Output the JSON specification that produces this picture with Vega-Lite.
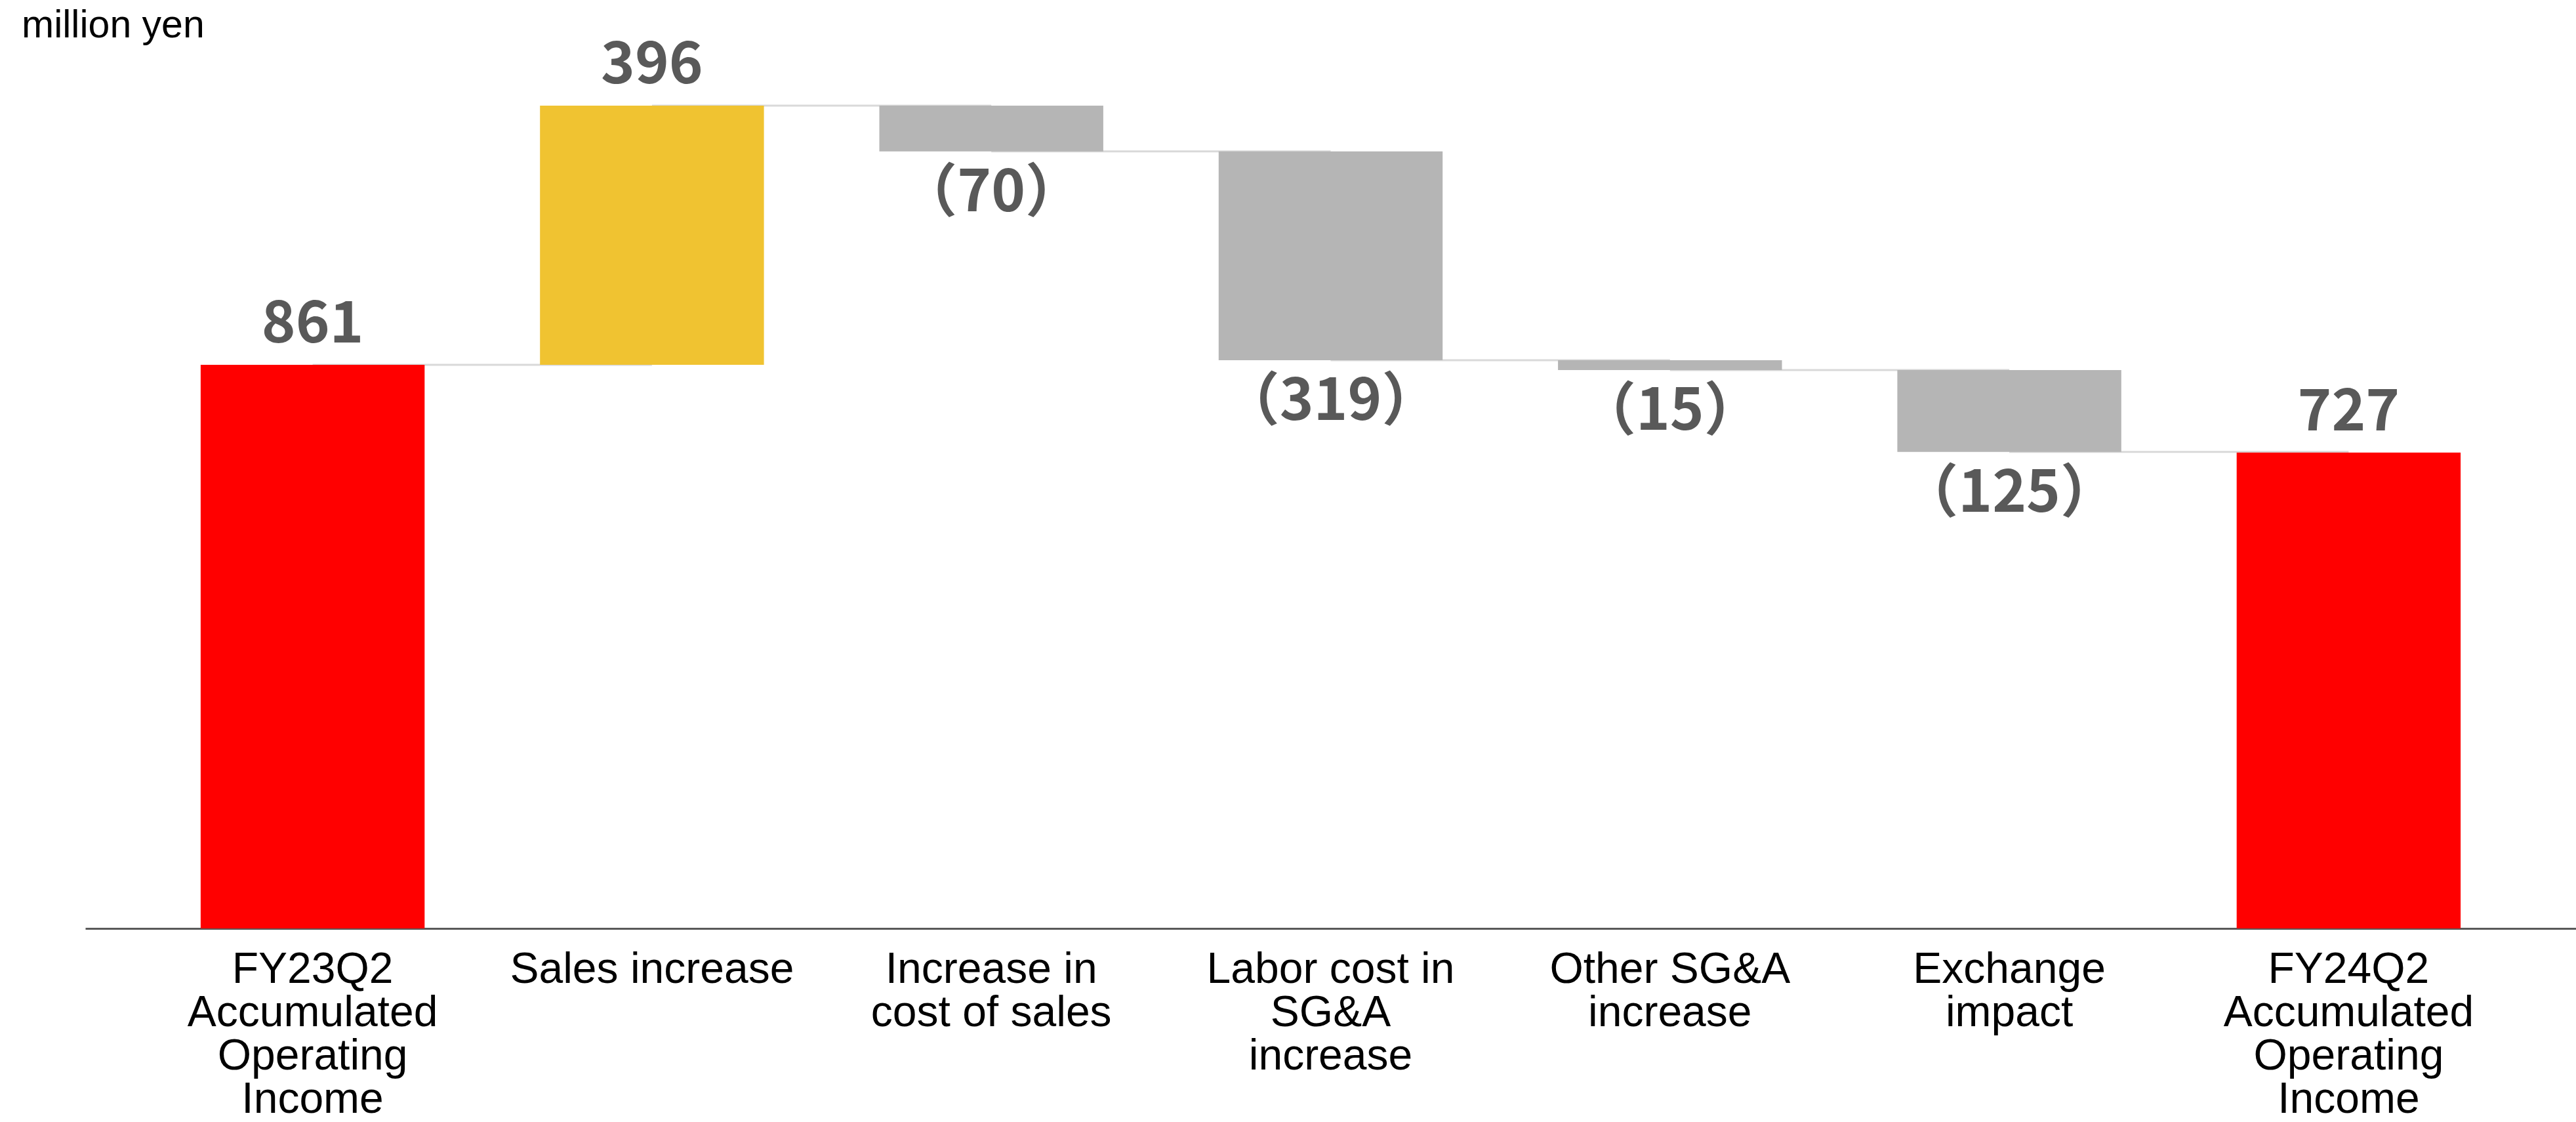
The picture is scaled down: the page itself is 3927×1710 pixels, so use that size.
{
  "$schema": "https://vega.github.io/schema/vega-lite/v6.json",
  "autosize": {"type": "none"},
  "width": 3797,
  "height": 1297,
  "padding": {"left": 130, "top": 118, "right": 0, "bottom": 295},
  "background": "white",
  "title": {"text": "million yen", "anchor": "start", "frame": "group", "orient": "top", "font": "Liberation Sans", "fontSize": 59, "fontWeight": "normal", "color": "#000000", "dx": -97, "dy": 55, "offset": 43},
  "config": {"view": {"stroke": null}},
  "datasets": {
    "steps": [
      {"cat": "FY23Q2|Accumulated|Operating|Income", "start": 0, "end": 861, "kind": "total", "label": "861"},
      {"cat": "Sales increase", "start": 861, "end": 1257, "kind": "up", "label": "396"},
      {"cat": "Increase in|cost of sales", "start": 1257, "end": 1187, "kind": "down", "label": "（70）"},
      {"cat": "Labor cost in|SG&A|increase", "start": 1187, "end": 868, "kind": "down", "label": "（319）"},
      {"cat": "Other SG&A|increase", "start": 868, "end": 853, "kind": "down", "label": "（15）"},
      {"cat": "Exchange|impact", "start": 853, "end": 728, "kind": "down", "label": "（125）"},
      {"cat": "FY24Q2|Accumulated|Operating|Income", "start": 0, "end": 727, "kind": "total", "label": "727"}
    ],
    "links": [
      {"pair": 1, "cat": "FY23Q2|Accumulated|Operating|Income", "level": 861},
      {"pair": 1, "cat": "Sales increase", "level": 861},
      {"pair": 2, "cat": "Sales increase", "level": 1257},
      {"pair": 2, "cat": "Increase in|cost of sales", "level": 1257},
      {"pair": 3, "cat": "Increase in|cost of sales", "level": 1187},
      {"pair": 3, "cat": "Labor cost in|SG&A|increase", "level": 1187},
      {"pair": 4, "cat": "Labor cost in|SG&A|increase", "level": 868},
      {"pair": 4, "cat": "Other SG&A|increase", "level": 868},
      {"pair": 5, "cat": "Other SG&A|increase", "level": 853},
      {"pair": 5, "cat": "Exchange|impact", "level": 853},
      {"pair": 6, "cat": "Exchange|impact", "level": 728},
      {"pair": 6, "cat": "FY24Q2|Accumulated|Operating|Income", "level": 728}
    ]
  },
  "encoding": {
    "x": {
      "field": "cat",
      "type": "nominal",
      "sort": null,
      "scale": {
        "domain": ["FY23Q2|Accumulated|Operating|Income", "Sales increase", "Increase in|cost of sales", "Labor cost in|SG&A|increase", "Other SG&A|increase", "Exchange|impact", "FY24Q2|Accumulated|Operating|Income"],
        "paddingInner": 0.34,
        "paddingOuter": 0.34
      },
      "axis": {
        "title": null,
        "domainColor": "#595959",
        "domainWidth": 3,
        "ticks": false,
        "grid": false,
        "labelAngle": 0,
        "labelFont": "Liberation Sans",
        "labelFontSize": 66,
        "labelColor": "#000000",
        "labelLineHeight": 66,
        "labelPadding": 30,
        "labelLimit": 0,
        "labelExpr": "split(datum.label, '|')"
      }
    }
  },
  "layer": [
    {
      "data": {"name": "links"},
      "mark": {"type": "line", "stroke": "#D9D9D9", "strokeWidth": 3},
      "encoding": {
        "y": {"field": "level", "type": "quantitative", "scale": {"domain": [0, 1300], "nice": false}, "axis": null},
        "detail": {"field": "pair", "type": "nominal"}
      }
    },
    {
      "data": {"name": "steps"},
      "mark": {"type": "bar"},
      "encoding": {
        "y": {"field": "start", "type": "quantitative"},
        "y2": {"field": "end"},
        "color": {"field": "kind", "type": "nominal", "scale": {"domain": ["total", "up", "down"], "range": ["#FF0000", "#F0C331", "#B5B5B5"]}, "legend": null}
      }
    },
    {
      "data": {"name": "steps"},
      "transform": [{"filter": "datum.kind != 'down'"}],
      "mark": {"type": "text", "font": "Noto Sans CJK JP", "fontSize": 88, "fontWeight": "bold", "color": "#595959", "baseline": "alphabetic", "dy": -34},
      "encoding": {
        "y": {"field": "end", "type": "quantitative"},
        "text": {"field": "label"}
      }
    },
    {
      "data": {"name": "steps"},
      "transform": [{"filter": "datum.kind == 'down'"}],
      "mark": {"type": "text", "font": "Noto Sans CJK JP", "fontSize": 88, "fontWeight": "bold", "color": "#595959", "baseline": "alphabetic", "dy": 91},
      "encoding": {
        "y": {"field": "end", "type": "quantitative"},
        "text": {"field": "label"}
      }
    }
  ]
}
